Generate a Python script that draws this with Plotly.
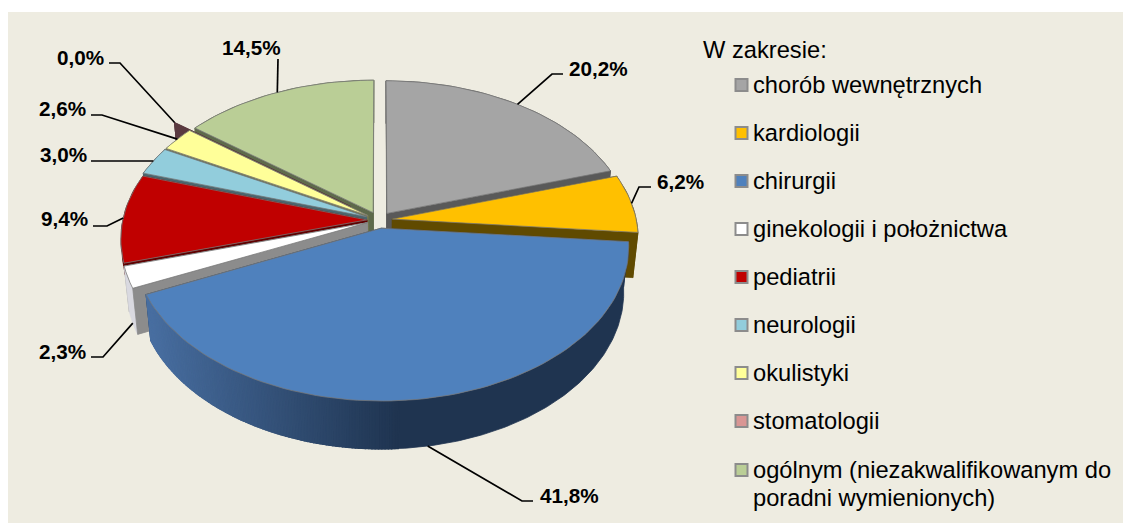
import math
import plotly.graph_objects as go

# ---- data ----
categories = ["chorób wewnętrznych", "kardiologii", "chirurgii", "ginekologii i położnictwa",
              "pediatrii", "neurologii", "okulistyki", "stomatologii",
              "ogólnym (niezakwalifikowanym do<br>poradni wymienionych)"]
values = [20.2, 6.2, 41.8, 2.3, 9.4, 3.0, 2.6, 0.0, 14.5]
value_labels = ["20,2%", "6,2%", "41,8%", "2,3%", "9,4%", "3,0%", "2,6%", "0,0%", "14,5%"]
legend_title = "W zakresie:"

# ---- styles ----
top_colors = ["#A5A5A5", "#FFC000", "#4F81BD", "#FFFFFF", "#C00000", "#92CDDC", "#FFFF99", "#5A3A40", "#BACE96"]
cut_colors = ["#595959", "#604A00", "#27405E", "#8C8C8C", "#600000", "#49666E", "#80804D", "#5A3A40", "#5E6A4B"]
wall_colors = ["#595959", "#604A00", None, "#D9D9E0", "#600000", "#49666E", "#80804D", "#5A3A40", "#5E6A4B"]
legend_colors = ["#A5A5A5", "#FFC000", "#4F81BD", "#FFFFFF", "#C00000", "#92CDDC", "#FFFF99", "#D99694", "#BACE96"]
explode = [0.055, 0.055, 0.055, 0.05, 0.05, 0.055, 0.055, 0.15, 0.055]
depth_scale = [1, 1, 1, 1, 0.25, 1, 1, 1, 1]
paint_order = [8, 7, 6, 5, 4, 0, 1, 3, 2]

CX, CY, A, B, K = 379.0, 220.0, 244.0, 150.0, 0.12
SHRINK, DEPTH = 0.98, 45.0
FONT = "Liberation Sans"
LABEL_SIZE = 20.7
LEGEND_SIZE = 23.7

# label centre, elbow start, elbow corner (pixels), leader ends on the lower rim?
label_pos = [(598, 68), (680, 181), (569, 495), (62, 351), (64, 218), (63, 154), (62, 108), (80, 57), (251, 47)]
elbows = [[(563, 74), (552, 74)], [(651, 187), (639, 187)], [(533, 501), (522, 501)], [(91, 357), (103, 357)],
          [(93, 226), (107, 226)], [(91, 161), (91, 161)], [(91, 115), (102, 115)], [(109, 63), (120, 63)],
          [(278, 59), (278, 59)]]
leader_on_wall = [False, False, True, True, False, False, False, False, False]
legend_x, legend_text_x = 741.5, 751
legend_y = [85, 133, 181, 229, 277, 325, 373, 421, 470]
LEGEND_LINE = 28


def project(x, y, lower=0.0):
    w = 1 + K * y
    sx, sy = A * x / w, -B * y / w
    if lower:
        f = 1 - (1 - SHRINK) * lower
        return CX + sx * f, CY + sy * f + DEPTH * lower / w
    return CX + sx, CY + sy


total = sum(values)
cum = 0.0
slices = []
for v, e, d in zip(values, explode, depth_scale):
    a0 = cum / total * 2 * math.pi
    cum += v
    a1 = cum / total * 2 * math.pi
    mid = (a0 + a1) / 2
    slices.append((a0, a1, mid, e * math.sin(mid), e * math.cos(mid), d))


def rim(s, t, lower=False):
    return project(s[3] + math.sin(t), s[4] + math.cos(t), s[5] if lower else 0.0)


def apex(s, lower=False):
    return project(s[3], s[4], s[5] if lower else 0.0)


def poly(points, color, line=None, width=0.8):
    xs = [p[0] for p in points] + [points[0][0]]
    ys = [p[1] for p in points] + [points[0][1]]
    return go.Scatter(x=xs, y=ys, mode="lines", fill="toself", fillcolor=color,
                      line=dict(color=line or color, width=width), hoverinfo="skip", showlegend=False)


def blue_wall_color(x):
    f = min(max((x - 150) / 250, 0), 1)
    c0, c1 = (72, 110, 160), (31, 52, 80)
    return "rgb(%d,%d,%d)" % tuple(round(a + (b - a) * f) for a, b in zip(c0, c1))


fig = go.Figure()
for i in paint_order:
    s = slices[i]
    a0, a1, mid = s[0], s[1], s[2]
    far, near = (a1, a0) if mid > math.pi else (a0, a1)
    spans_front = a0 < math.pi < a1
    fig.add_trace(poly([apex(s), rim(s, far), rim(s, far, True), apex(s, True)], cut_colors[i]))
    if spans_front:
        fig.add_trace(poly([apex(s), rim(s, near), rim(s, near, True), apex(s, True)], cut_colors[i]))
    steps = max(2, int((a1 - a0) / 0.03))
    ts = [a0 + (a1 - a0) * n / steps for n in range(steps + 1)]
    if wall_colors[i] is None:
        # gradient wall: one dark base, then thin colour bands where the shade changes
        bands = max(2, int((a1 - a0) / 0.012))
        tb = [a0 + (a1 - a0) * n / bands for n in range(bands + 1)]
        fig.add_trace(poly([rim(s, t) for t in tb] + [rim(s, t, True) for t in reversed(tb)], blue_wall_color(400)))
        for t0, t1 in zip(tb[:-1], tb[1:]):
            x_mid = rim(s, t0)[0]
            if x_mid < 402:
                fig.add_trace(poly([rim(s, t0), rim(s, t1), rim(s, t1, True), rim(s, t0, True)],
                                   blue_wall_color(x_mid), width=1.2))
    else:
        fig.add_trace(poly([rim(s, t) for t in ts] + [rim(s, t, True) for t in reversed(ts)], wall_colors[i]))
    if not spans_front:
        fig.add_trace(poly([apex(s), rim(s, near), rim(s, near, True), apex(s, True)], cut_colors[i]))
    if values[i] > 0:
        fig.add_trace(poly([apex(s)] + [rim(s, t) for t in ts], top_colors[i], line="rgba(120,120,120,0.75)", width=1))

# leaders
for i, pts in enumerate(elbows):
    end = rim(slices[i], slices[i][2], leader_on_wall[i])
    line = pts + [end]
    fig.add_trace(go.Scatter(x=[p[0] for p in line], y=[p[1] for p in line], mode="lines",
                             line=dict(color="#000000", width=1.7), hoverinfo="skip", showlegend=False))

# legend squares
fig.add_trace(go.Scatter(x=[legend_x] * len(categories), y=legend_y, mode="markers",
                         marker=dict(symbol="square", size=12, color=legend_colors,
                                     line=dict(color="#8C8C8C", width=2)),
                         hoverinfo="skip", showlegend=False))

ann = []
for (x, y), txt in zip(label_pos, value_labels):
    ann.append(dict(x=x, y=y, text="<b>%s</b>" % txt, showarrow=False, xanchor="center", yanchor="middle",
                    font=dict(family=FONT, size=LABEL_SIZE, color="#000000")))
for y, txt in zip(legend_y, categories):
    for n, part in enumerate(txt.split("<br>")):
        ann.append(dict(x=legend_text_x, y=y + n * LEGEND_LINE, text=part, showarrow=False,
                        xanchor="left", yanchor="middle", align="left",
                        font=dict(family=FONT, size=LEGEND_SIZE, color="#000000")))
ann.append(dict(x=701, y=50, text=legend_title, showarrow=False, xanchor="left", yanchor="middle",
                font=dict(family=FONT, size=LEGEND_SIZE, color="#000000")))

fig.update_layout(
    width=1123, height=523, margin=dict(l=0, r=0, t=0, b=0),
    paper_bgcolor="#FFFFFF", plot_bgcolor="#FFFFFF", showlegend=False,
    xaxis=dict(range=[0, 1123], visible=False, fixedrange=True),
    yaxis=dict(range=[523, 0], visible=False, fixedrange=True),
    annotations=ann,
    shapes=[dict(type="rect", xref="x", yref="y", x0=8, y0=12, x1=1123, y1=523,
                 fillcolor="#EEECE1", line=dict(width=0), layer="below")],
)
fig.write_html("out.html", config=dict(displayModeBar=False),
               post_script="document.documentElement.style.overflow='hidden';"
                           "document.body.style.margin='0';document.body.style.overflow='hidden';")
